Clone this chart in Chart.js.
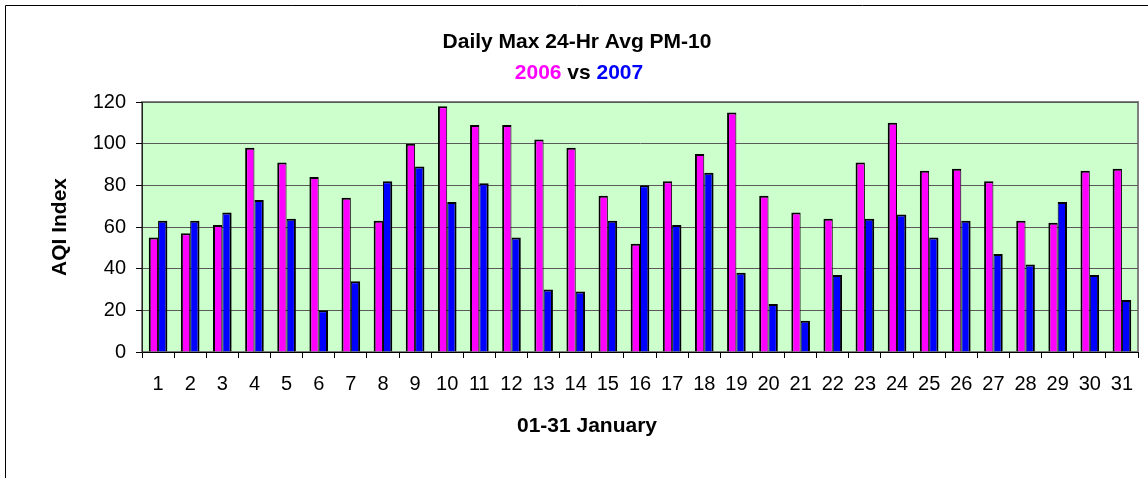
<!DOCTYPE html>
<html>
<head>
<meta charset="utf-8">
<title>Daily Max 24-Hr Avg PM-10</title>
<script src="https://cdn.jsdelivr.net/npm/chart.js@4"></script>
<style>
    body { margin: 0; background: #fff; }
    canvas { display: block; }
</style>
</head>
<body>
<canvas id="pmChart" width="1148" height="478"></canvas>
<script>
// chart data
const days = ['1', '2', '3', '4', '5', '6', '7', '8', '9', '10', '11', '12', '13', '14', '15', '16',
    '17', '18', '19', '20', '21', '22', '23', '24', '25', '26', '27', '28', '29', '30', '31'];
const aqi2006 = [55, 57, 61, 98, 91, 84, 74, 63, 100, 118, 109, 109, 102, 98, 75, 52,
    82, 95, 115, 75, 67, 64, 91, 110, 87, 88, 82, 63, 62, 87, 88];
const aqi2007 = [63, 63, 67, 73, 64, 20, 34, 82, 89, 72, 81, 55, 30, 29, 63, 80,
    61, 86, 38, 23, 15, 37, 64, 66, 55, 63, 47, 42, 72, 37, 25];
const seriesNames = ['2006', '2007'];
const seriesColors = ['#FF00FF', '#0000FF'];

const chartTitle = 'Daily Max 24-Hr Avg PM-10';
const xTitle = '01-31 January';
const yTitle = 'AQI Index';

const fontFamily = '"Liberation Sans", Arial, sans-serif';

// background, frame and titles drawn around the chart area
const decorPlugin = {
    id: 'decor',
    beforeDraw(chart) {
        const { ctx, chartArea } = chart;
        ctx.save();
        ctx.fillStyle = '#fff';
        ctx.fillRect(0, 0, chart.width, chart.height);

        // outer frame (only left and top visible)
        ctx.strokeStyle = '#000';
        ctx.lineWidth = 1;
        ctx.beginPath();
        ctx.moveTo(5.5, chart.height);
        ctx.lineTo(5.5, 5.5);
        ctx.lineTo(chart.width, 5.5);
        ctx.stroke();

        // plot area
        ctx.fillStyle = '#CCFFCC';
        ctx.fillRect(chartArea.left, chartArea.top, chartArea.right - chartArea.left, chartArea.bottom - chartArea.top);
        ctx.strokeStyle = '#808080';
        ctx.lineWidth = 2;
        ctx.strokeRect(chartArea.left, chartArea.top, chartArea.right - chartArea.left, chartArea.bottom - chartArea.top);
        ctx.restore();
    },
    afterDraw(chart) {
        const { ctx } = chart;
        ctx.save();
        ctx.textBaseline = 'middle';
        ctx.font = 'bold 21px ' + fontFamily;
        ctx.fillStyle = '#000';
        ctx.textAlign = 'center';
        ctx.fillText(chartTitle, 577, 42);

        // subtitle with coloured years
        const parts = [
            { text: seriesNames[0], color: seriesColors[0] },
            { text: ' vs ', color: '#000' },
            { text: seriesNames[1], color: seriesColors[1] },
        ];
        const total = parts.reduce((w, p) => w + ctx.measureText(p.text).width, 0);
        let x = 579 - total / 2;
        ctx.textAlign = 'left';
        parts.forEach(p => {
            ctx.fillStyle = p.color;
            ctx.fillText(p.text, x, 73);
            x += ctx.measureText(p.text).width;
        });

        // x axis title
        ctx.fillStyle = '#000';
        ctx.textAlign = 'center';
        ctx.fillText(xTitle, 587, 426);
        ctx.restore();
    }
};

const config = {
    type: 'bar',
    data: {
        labels: days,
        datasets: [
            {
                label: seriesNames[0],
                data: aqi2006,
                backgroundColor: seriesColors[0],
                borderColor: '#000',
                borderWidth: { top: 2, left: 2, right: 1, bottom: 0 },
                borderSkipped: false,
            },
            {
                label: seriesNames[1],
                data: aqi2007,
                backgroundColor: seriesColors[1],
                borderColor: '#000',
                borderWidth: { top: 2, left: 1, right: 2, bottom: 0 },
                borderSkipped: false,
            },
        ],
    },
    options: {
        responsive: false,
        animation: false,
        layout: {
            padding: { top: 102, right: 10, bottom: 6, left: 0 },
        },
        plugins: {
            legend: { display: false },
            title: { display: false },
            tooltip: { enabled: false },
        },
        datasets: {
            bar: {
                categoryPercentage: 0.58,
                barPercentage: 1.0,
            },
        },
        scales: {
            x: {
                offset: true,
                grid: {
                    display: true,
                    drawOnChartArea: false,
                    tickLength: 6,
                    tickColor: '#000',
                    offset: true,
                },
                border: { color: '#000', width: 1 },
                ticks: {
                    color: '#000',
                    padding: 14,
                    maxRotation: 0,
                    autoSkip: false,
                    font: { family: fontFamily, size: 20 },
                },
                afterFit(scale) {
                    scale.height = 120;
                },
            },
            y: {
                min: 0,
                max: 120,
                ticks: {
                    stepSize: 20,
                    color: '#000',
                    padding: 10,
                    font: { family: fontFamily, size: 20 },
                },
                grid: {
                    color: '#5a5a5a',
                    tickColor: '#000',
                    tickLength: 6,
                },
                border: { color: '#222', width: 1 },
                title: {
                    display: true,
                    text: yTitle,
                    color: '#000',
                    font: { family: fontFamily, size: 21, weight: 'bold' },
                    padding: { top: 48, bottom: 0 },
                },
                afterFit(scale) {
                    scale.width = 142;
                },
            },
        },
    },
    plugins: [decorPlugin],
};

const pmChart = new Chart(document.getElementById('pmChart').getContext('2d'), config);
</script>
</body>
</html>
